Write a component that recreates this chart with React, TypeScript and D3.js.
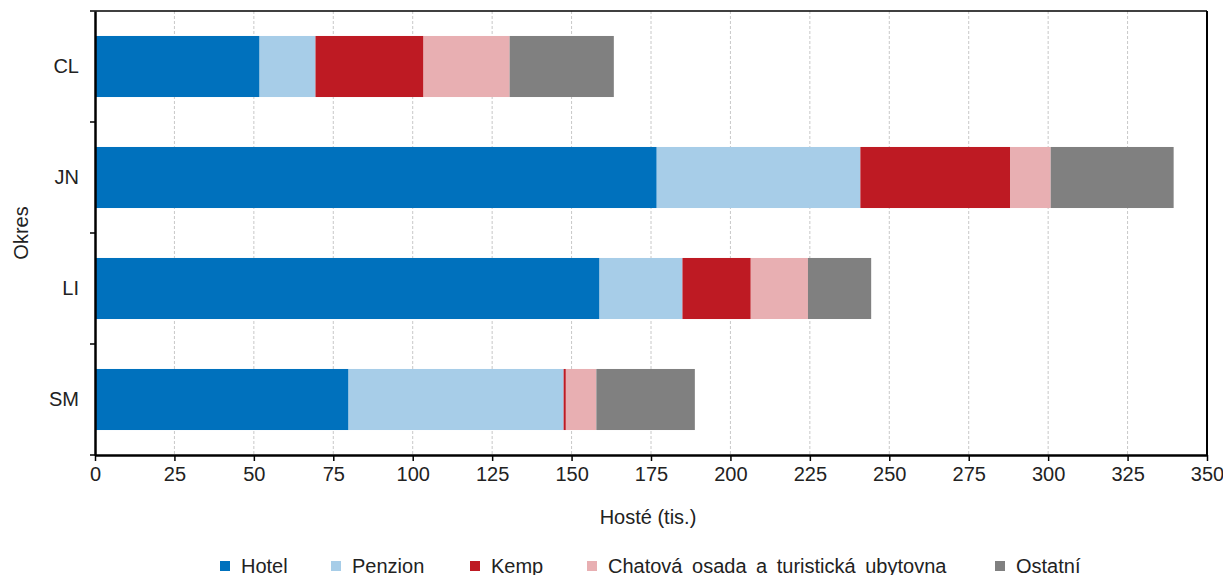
import React, { useEffect, useRef } from "react";
import * as d3 from "d3";

const districts = ["CL", "JN", "LI", "SM"];
const seriesNames = ["Hotel", "Penzion", "Kemp", "Chatová osada a turistická ubytovna", "Ostatní"];
const seriesColors = ["#0071bd", "#a7cde8", "#be1a23", "#e8afb2", "#808080"];
const hotel = [51.8, 176.8, 158.8, 79.8];
const penzion = [17.6, 64.1, 26.1, 67.7];
const kemp = [34.0, 47.2, 21.5, 0.7];
const chatova = [27.1, 12.7, 18.0, 9.6];
const ostatni = [32.8, 38.7, 19.9, 31.0];
const xTicks = [0, 25, 50, 75, 100, 125, 150, 175, 200, 225, 250, 275, 300, 325, 350];

const W = 1223;
const H = 575;
const FONT = "'Liberation Sans', Arial, sans-serif";

export default function App() {
    const ref = useRef<SVGSVGElement>(null);

    useEffect(() => {
        const svg = d3.select(ref.current);
        svg.selectAll("*").remove();

        const margin = { top: 11, right: 16, bottom: 120, left: 95 };
        const width = W - margin.left - margin.right;
        const height = H - margin.top - margin.bottom;

        const rows = districts.map((d, i) => ({
            district: d,
            Hotel: hotel[i],
            Penzion: penzion[i],
            Kemp: kemp[i],
            "Chatová osada a turistická ubytovna": chatova[i],
            "Ostatní": ostatni[i],
        }));
        const stacked = d3.stack<any>().keys(seriesNames)(rows);

        const x = d3.scaleLinear().domain([0, 350]).range([0, width]);
        const y = d3.scaleBand().domain(districts).range([0, height]).paddingInner(0.45).paddingOuter(0.225);
        const color = d3.scaleOrdinal<string, string>().domain(seriesNames).range(seriesColors);

        const g = svg.append("g").attr("transform", `translate(${margin.left},${margin.top})`);

        // grid
        g.append("g")
            .selectAll("line")
            .data(xTicks.slice(1, -1))
            .enter()
            .append("line")
            .attr("x1", (d) => x(d))
            .attr("x2", (d) => x(d))
            .attr("y1", 0)
            .attr("y2", height)
            .attr("stroke", "#c8c8c8")
            .attr("stroke-width", 1)
            .attr("stroke-dasharray", "3 2");

        // bars
        g.append("g")
            .selectAll("g")
            .data(stacked)
            .enter()
            .append("g")
            .attr("fill", (d) => color(d.key))
            .selectAll("rect")
            .data((d) => d)
            .enter()
            .append("rect")
            .attr("x", (d) => x(d[0]))
            .attr("width", (d) => x(d[1]) - x(d[0]))
            .attr("y", (d: any) => y(d.data.district)!)
            .attr("height", y.bandwidth());

        // frame
        g.append("line").attr("x1", 0).attr("x2", width).attr("y1", 0).attr("y2", 0)
            .attr("stroke", "#000").attr("stroke-width", 1.5);
        g.append("line").attr("x1", width).attr("x2", width).attr("y1", 0).attr("y2", height)
            .attr("stroke", "#000").attr("stroke-width", 2);

        // x axis
        const xAxis = g.append("g")
            .attr("transform", `translate(0,${height})`)
            .call(d3.axisBottom(x).tickValues(xTicks).tickSize(6).tickPadding(6).tickSizeOuter(0));
        xAxis.select(".domain").attr("stroke", "#000").attr("stroke-width", 2.5);
        xAxis.selectAll(".tick line").attr("stroke", "#000").attr("stroke-width", 1.5);
        xAxis.selectAll(".tick text").attr("font-family", FONT).attr("font-size", 20).attr("fill", "#222");

        // y axis
        const yAxis = g.append("g").call(d3.axisLeft(y).tickSize(0).tickPadding(16));
        yAxis.select(".domain").attr("stroke", "#000").attr("stroke-width", 2.5);
        yAxis.selectAll(".tick text").attr("font-family", FONT).attr("font-size", 20).attr("fill", "#222");
        const step = y.step();
        g.append("g")
            .selectAll("line")
            .data(d3.range(districts.length + 1))
            .enter()
            .append("line")
            .attr("x1", -5)
            .attr("x2", 0)
            .attr("y1", (i) => i * step)
            .attr("y2", (i) => i * step)
            .attr("stroke", "#000")
            .attr("stroke-width", 1.5);

        // axis titles
        svg.append("text")
            .attr("x", margin.left + width / 2 - 3)
            .attr("y", 524)
            .attr("text-anchor", "middle")
            .attr("font-family", FONT)
            .attr("font-size", 20)
            .attr("fill", "#222")
            .text("Hosté (tis.)");
        svg.append("text")
            .attr("transform", `translate(28,${margin.top + height / 2}) rotate(-90)`)
            .attr("text-anchor", "middle")
            .attr("font-family", FONT)
            .attr("font-size", 20)
            .attr("fill", "#222")
            .text("Okres");

        // legend
        const legendX = [220, 331, 470, 587, 995];
        const legend = svg.append("g")
            .selectAll("g")
            .data(seriesNames)
            .enter()
            .append("g")
            .attr("transform", (d, i) => `translate(${legendX[i]},566)`);
        legend.append("rect").attr("x", 0).attr("y", -5).attr("width", 10).attr("height", 10)
            .attr("fill", (d) => color(d));
        legend.append("text")
            .attr("x", 21)
            .attr("y", 7)
            .attr("font-family", FONT)
            .attr("font-size", 20)
            .attr("word-spacing", 4)
            .attr("fill", "#222")
            .text((d) => d);
    }, []);

    return (
        <svg
            ref={ref}
            width={W}
            height={H}
            style={{ position: "absolute", left: 0, top: 0, background: "#fff" }}
        />
    );
}
